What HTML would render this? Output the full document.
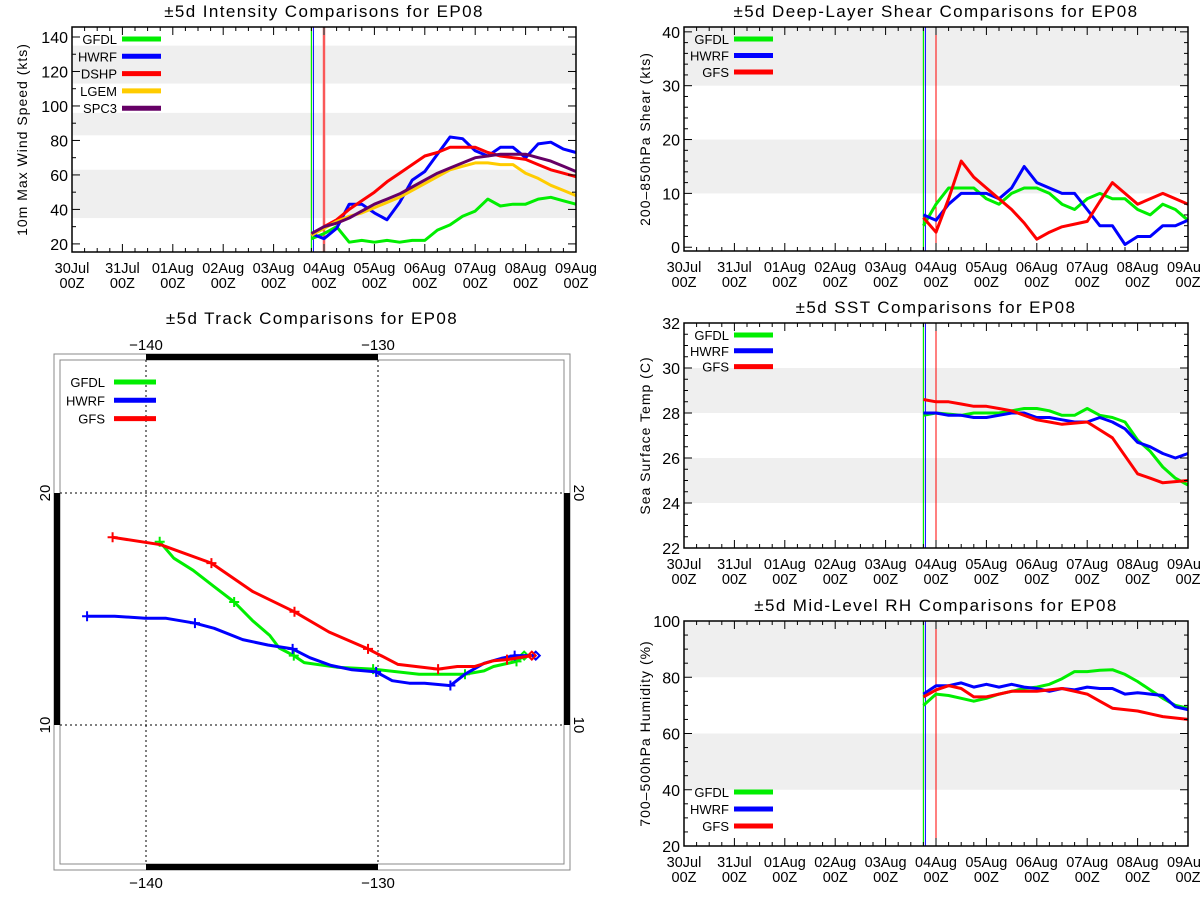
<!DOCTYPE html>
<html><head><meta charset="utf-8"><style>
html,body{margin:0;padding:0;background:#fff;}
svg{display:block;font-family:"Liberation Sans",sans-serif;}
</style></head><body>
<svg id="fig" width="1200" height="900" viewBox="0 0 1200 900" xmlns="http://www.w3.org/2000/svg"></svg>
<script>
// ---- data ----
const dayLabels = ["30Jul","31Jul","01Aug","02Aug","03Aug","04Aug","05Aug","06Aug","07Aug","08Aug","09Aug"];
const fcstHours = [-6,0,6,12,18,24,30,36,42,48,54,60,66,72,78,84,90,96,102,108,114,120];
// intensity (kts)
const intGFDL = [23,26,30,21,22,21,22,21,22,22,28,31,36,39,46,42,43,43,46,47,45,43];
const intHWRF = [26,23,29,43,43,38,34,44,57,62,72,82,81,74,71,76,76,70,78,79,75,73];
const intDSHP = [25,30,34,40,45,50,56,61,66,71,73,76,76,76,73,71,70,69,66,63,61,59];
const intLGEM = [25,29,33,36,38,41,44,47,51,55,59,63,65,67,67,66,66,61,58,54,51,48];
const intSPC3 = [26,30,32,35,39,43,46,49,53,57,61,64,67,70,71,72,72,72,70,68,65,62];
// shear (kts)
const shrGFDL = [4,8,11,11,11,9,8,10,11,11,10,8,7,9,10,9,9,7,6,8,7,5];
const shrHWRF = [6,5,8,10,10,10,9,11,15,12,11,10,10,7,4,4,0.5,2,2,4,4,5];
const shrGFS  = [5.5,2.8,9,16,13,11,9,7,4.5,1.5,2.8,3.8,4.3,4.8,8.5,12,10,8,9,10,9,8];
// SST (C)
const sstGFDL = [27.9,28.0,27.95,27.9,28.0,28.0,28.0,28.1,28.2,28.2,28.1,27.9,27.9,28.2,27.9,27.8,27.6,26.8,26.3,25.6,25.1,24.8];
const sstHWRF = [28.0,28.0,27.9,27.9,27.8,27.8,27.9,28.0,28.0,27.8,27.8,27.7,27.6,27.6,27.8,27.6,27.3,26.7,26.5,26.2,26.0,26.2];
const sstGFS  = [28.6,28.5,28.5,28.4,28.3,28.3,28.2,28.1,27.9,27.7,27.6,27.5,27.55,27.6,27.25,26.9,26.1,25.3,25.1,24.9,24.95,25.0];
// RH (%)
const rhGFDL = [70,74,73.5,72.5,71.5,72.5,74,75,76,76.5,77.5,79.5,82,82,82.5,82.7,81,78.5,75.5,72.5,70,69];
const rhHWRF = [74,77,77,78,76.5,77.5,76.5,77.5,76.5,76,75,76,75.5,76.5,76,76,74,74.5,74,73.5,69.5,68.5];
const rhGFS  = [73,75.5,77,76,73,73,74,75,75,75,75.5,76,75,74,71.5,69,68.5,68,67,66,65.5,65];
// tracks (lon, lat)
const trkGFSLon  = [-123.37,-124.44,-125.02,-125.84,-126.58,-127.41,-129.14,-130.43,-132.11,-133.60,-135.41,-137.18,-139.37,-141.44];
const trkGFSLat  = [12.99,12.82,12.77,12.52,12.52,12.41,12.61,13.28,14.01,14.88,15.76,16.98,17.77,18.09];
const trkGFSMarks = [1,5,7,9,11,13];
const trkGFDLLon = [-123.70,-124.03,-125.02,-125.43,-126.25,-128.23,-130.21,-131.78,-133.18,-133.63,-134.26,-134.67,-135.41,-136.20,-137.06,-137.97,-138.80,-139.41];
const trkGFDLLat = [12.99,12.74,12.52,12.33,12.19,12.19,12.41,12.49,12.69,12.99,13.32,13.86,14.50,15.30,15.96,16.67,17.19,17.90];
const trkGFDLMarks = [1,4,6,9,13,17];
const trkHWRFLon = [-123.20,-124.11,-124.69,-125.43,-126.25,-126.88,-127.99,-128.65,-129.39,-130.08,-131.12,-132.03,-132.94,-133.68,-134.75,-135.83,-137.06,-137.89,-139.13,-140.03,-141.35,-142.54];
const trkHWRFLat = [12.99,12.99,12.87,12.66,12.19,11.70,11.80,11.80,11.91,12.29,12.38,12.57,12.90,13.28,13.45,13.68,14.17,14.39,14.60,14.60,14.69,14.69];
const trkHWRFMarks = [1,5,9,13,17,21];

const NS="http://www.w3.org/2000/svg";
const svg=document.getElementById('fig');
function el(tag,attrs,parent){const e=document.createElementNS(NS,tag);for(const k in attrs)e.setAttribute(k,attrs[k]);(parent||svg).appendChild(e);return e;}
function txt(s,attrs,parent){const t=el('text',attrs,parent);t.textContent=s;return t;}

const GREEN="#00ee00",BLUE="#0000ff",RED="#ff0000",GOLD="#ffcc00",PURP="#660066";

function timePanel(cfg){
  const g=el('g',{});
  
  
  const B=cfg.box;
  const xs=d=>B.x+d/10*B.w;
  const xh=h=>xs(5+h/24);
  const ys=v=>B.y+B.h-(v-cfg.ymin)/(cfg.ymax-cfg.ymin)*B.h;
  cfg.bands.forEach(b=>{
    const r=el('rect',{x:B.x,y:ys(Math.min(b[1],cfg.ymax)),width:B.w,height:ys(b[0])-ys(Math.min(b[1],cfg.ymax)),fill:'#efefef'},g);
    
    
  });
  const l1=el('line',{x1:xh(-6),x2:xh(-6),y1:B.y,y2:B.y+B.h,stroke:GREEN,'stroke-width':1.2},g);
  
  const l2=el('line',{x1:xh(-6)+2,x2:xh(-6)+2,y1:B.y,y2:B.y+B.h,stroke:BLUE,'stroke-width':1},g);
  
  if(cfg.pink){el('line',{x1:xh(0),x2:xh(0),y1:B.y,y2:B.y+B.h,stroke:'#f6b0b0','stroke-width':3},g);}
  const l3=el('line',{x1:xh(0),x2:xh(0),y1:B.y,y2:B.y+B.h,stroke:RED,'stroke-width':1},g);
  
  cfg.series.forEach(s=>{
    const pts=fcstHours.map((h,i)=>xh(h).toFixed(1)+','+ys(s.vals[i]).toFixed(1)).join(' ');
    const p=el('polyline',{points:pts,fill:'none',stroke:s.color,'stroke-width':3,'stroke-linejoin':'round'},g);
    
    
  });
  const fr=el('rect',{x:B.x,y:B.y,width:B.w,height:B.h,fill:'none',stroke:'#000','stroke-width':1.5},g);
  
  for(let q=0;q<=40;q++){
    const x=xs(q/4),L=(q%4===0)?8:4;
    el('line',{x1:x,x2:x,y1:B.y+B.h,y2:B.y+B.h-L,stroke:'#000','stroke-width':1},g);
    el('line',{x1:x,x2:x,y1:B.y,y2:B.y+L,stroke:'#000','stroke-width':1},g);
  }
  dayLabels.forEach((d,i)=>{
    const t=txt(d,{x:xs(i),y:B.y+B.h+21,'text-anchor':'middle','font-size':14.5},g);
    
    const t2=txt('00Z',{x:xs(i),y:B.y+B.h+36,'text-anchor':'middle','font-size':14.5},g);
    
  });
  for(let v=cfg.minorStart;v<=cfg.ymax+1e-6;v+=cfg.minor){
    const maj=Math.abs((v-cfg.majorStart)/cfg.major-Math.round((v-cfg.majorStart)/cfg.major))<1e-6;
    const L=maj?8:4,y=ys(v);
    el('line',{x1:B.x,x2:B.x+L,y1:y,y2:y,stroke:'#000','stroke-width':1},g);
    el('line',{x1:B.x+B.w,x2:B.x+B.w-L,y1:y,y2:y,stroke:'#000','stroke-width':1},g);
    if(maj){
      const t=txt(String(Math.round(v)),{x:B.x-4,y:y+6,'text-anchor':'end','font-size':16},g);
      
    }
  }
  const ttl=txt(cfg.title,{x:B.x+B.w/2,y:B.y-10,'text-anchor':'middle','font-size':17,'letter-spacing':'1.4'},g);
  
  const yt=txt(cfg.ytitle,{x:0,y:0,'text-anchor':'middle','font-size':14,'letter-spacing':'1',transform:`translate(${cfg.ytx},${B.y+B.h/2}) rotate(-90)`},g);
  
  cfg.series.forEach((s,i)=>{
    const y=cfg.legY+i*cfg.legDy;
    const lg=el('g',{},g);
    
    
    txt(s.label,{x:cfg.legTextX,y:y+5,'text-anchor':'end','font-size':13},lg);
    el('line',{x1:cfg.legTextX+5,x2:cfg.legTextX+44,y1:y,y2:y,stroke:s.color,'stroke-width':5},lg);
  });
}

timePanel({name:'intensity-panel',title:'\u00b15d Intensity Comparisons for EP08',ytitle:'10m Max Wind Speed (kts)',ytx:27,
  box:{x:72,y:27,w:504,h:225},ymin:15.3,ymax:145.8,major:20,majorStart:20,minor:10,minorStart:20,
  bands:[[35,63],[83,96],[113,135]],pink:true,legTextX:117,legY:39,legDy:17.3,
  series:[{key:'gfdl',label:'GFDL',color:GREEN,vals:intGFDL},{key:'hwrf',label:'HWRF',color:BLUE,vals:intHWRF},
    {key:'dshp',label:'DSHP',color:RED,vals:intDSHP},{key:'lgem',label:'LGEM',color:GOLD,vals:intLGEM},{key:'spc3',label:'SPC3',color:PURP,vals:intSPC3}]});
timePanel({name:'shear-panel',title:'\u00b15d Deep-Layer Shear Comparisons for EP08',ytitle:'200\u2013850hPa Shear (kts)',ytx:650,
  box:{x:684,y:27,w:504,h:224},ymin:-0.7,ymax:40.9,major:10,majorStart:0,minor:2,minorStart:0,
  bands:[[10,20],[30,40.9]],legTextX:729,legY:39,legDy:16.5,
  series:[{key:'gfdl',label:'GFDL',color:GREEN,vals:shrGFDL},{key:'hwrf',label:'HWRF',color:BLUE,vals:shrHWRF},{key:'gfs',label:'GFS',color:RED,vals:shrGFS}]});
timePanel({name:'sst-panel',title:'\u00b15d SST Comparisons for EP08',ytitle:'Sea Surface Temp (C)',ytx:650,
  box:{x:684,y:323,w:504,h:225},ymin:22,ymax:32,major:2,majorStart:22,minor:0.5,minorStart:22,
  bands:[[24,26],[28,30]],legTextX:729,legY:335,legDy:15.8,
  series:[{key:'gfdl',label:'GFDL',color:GREEN,vals:sstGFDL},{key:'hwrf',label:'HWRF',color:BLUE,vals:sstHWRF},{key:'gfs',label:'GFS',color:RED,vals:sstGFS}]});
timePanel({name:'rh-panel',title:'\u00b15d Mid-Level RH Comparisons for EP08',ytitle:'700\u2013500hPa Humidity (%)',ytx:650,
  box:{x:684,y:621,w:504,h:225},ymin:20,ymax:100,major:20,majorStart:20,minor:5,minorStart:20,
  bands:[[40,60],[80,100]],legTextX:729,legY:792,legDy:17,
  series:[{key:'gfdl',label:'GFDL',color:GREEN,vals:rhGFDL},{key:'hwrf',label:'HWRF',color:BLUE,vals:rhHWRF},{key:'gfs',label:'GFS',color:RED,vals:rhGFS}]});

// ---- track panel ----
(function(){
  const g=el('g',{});
  
  
  const lx=lon=>146+(lon+140)*23.2;
  const ly=lat=>493-(lat-20)*23.2;
  el('rect',{x:54,y:354,width:516,height:516,fill:'none',stroke:'#888','stroke-width':1},g);
  el('rect',{x:60,y:360,width:504,height:504,fill:'none',stroke:'#888','stroke-width':1},g);
  el('rect',{x:lx(-140),y:354,width:lx(-130)-lx(-140),height:6,fill:'#000'},g);
  el('rect',{x:lx(-140),y:864,width:lx(-130)-lx(-140),height:6,fill:'#000'},g);
  el('rect',{x:54,y:ly(20),width:6,height:ly(10)-ly(20),fill:'#000'},g);
  el('rect',{x:564,y:ly(20),width:6,height:ly(10)-ly(20),fill:'#000'},g);
  [-140,-130].forEach(lon=>{
    el('line',{x1:lx(lon),x2:lx(lon),y1:360,y2:864,stroke:'#000','stroke-width':1,'stroke-dasharray':'2,3'},g);
    const a=txt('\u2212'+(-lon),{x:lx(lon),y:350,'text-anchor':'middle','font-size':15},g);
    
    const b=txt('\u2212'+(-lon),{x:lx(lon),y:888,'text-anchor':'middle','font-size':15},g);
    
  });
  [10,20].forEach(lat=>{
    el('line',{x1:60,x2:564,y1:ly(lat),y2:ly(lat),stroke:'#000','stroke-width':1,'stroke-dasharray':'2,3'},g);
    const a=txt(String(lat),{x:0,y:0,'text-anchor':'middle','font-size':15,transform:`translate(50,${ly(lat)}) rotate(-90)`},g);
    
    const b=txt(String(lat),{x:0,y:0,'text-anchor':'middle','font-size':15,transform:`translate(574,${ly(lat)}) rotate(90)`},g);
    
  });
  const tracks=[{key:'gfdl',color:GREEN,lon:trkGFDLLon,lat:trkGFDLLat,m:trkGFDLMarks},
                {key:'hwrf',color:BLUE,lon:trkHWRFLon,lat:trkHWRFLat,m:trkHWRFMarks},
                {key:'gfs',color:RED,lon:trkGFSLon,lat:trkGFSLat,m:trkGFSMarks}];
  tracks.forEach(t=>{
    const pts=t.lon.map((lo,i)=>lx(lo).toFixed(1)+','+ly(t.lat[i]).toFixed(1)).join(' ');
    const p=el('polyline',{points:pts,fill:'none',stroke:t.color,'stroke-width':3,'stroke-linejoin':'round'},g);
    
    
    t.m.forEach(i=>{
      const x=lx(t.lon[i]),y=ly(t.lat[i]);
      el('path',{d:`M${x-5},${y}H${x+5}M${x},${y-5}V${y+5}`,stroke:t.color,'stroke-width':2},g);
    });
    const x0=lx(t.lon[0]),y0=ly(t.lat[0]);
    const d=el('path',{d:`M${x0-4},${y0}L${x0},${y0-4}L${x0+4},${y0}L${x0},${y0+4}Z`,fill:'none',stroke:t.color,'stroke-width':2},g);
    
    
  });
  const labels=[['GFDL',GREEN],['HWRF',BLUE],['GFS',RED]];
  labels.forEach((L,i)=>{
    const y=382+i*18.3;
    const lg=el('g',{},g);
    
    
    txt(L[0],{x:105,y:y+5,'text-anchor':'end','font-size':13},lg);
    el('line',{x1:114,x2:156,y1:y,y2:y,stroke:L[1],'stroke-width':5},lg);
  });
  const tt=txt('\u00b15d Track Comparisons for EP08',{x:312,y:324,'text-anchor':'middle','font-size':17,'letter-spacing':'1.4'},g);
  
})();
</script>
</body></html>
